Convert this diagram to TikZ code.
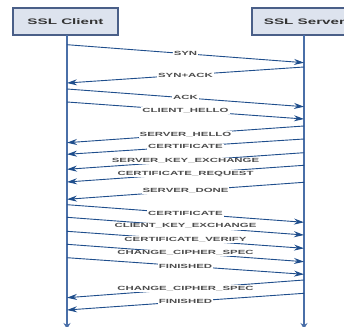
\documentclass[tikz,border=0pt]{standalone}
\usepackage{fontspec}
\setmainfont{Liberation Sans}
\usetikzlibrary{arrows.meta}
\definecolor{boxfill}{HTML}{DDE3EE}
\definecolor{boxdraw}{HTML}{4A5F88}
\definecolor{msgcol}{HTML}{1F4E8C}
\definecolor{lifecol}{HTML}{4A6FA8}
\definecolor{lblcol}{HTML}{4D4D4D}
\definecolor{titlecol}{HTML}{333333}
\newcommand{\msgtxt}[1]{\scalebox{1.9}[1]{\fontsize{6}{6}\selectfont\bfseries #1}}
\newcommand{\titletxt}[1]{\scalebox{1.9}[1]{\fontsize{8}{8}\selectfont\bfseries #1}}
\tikzset{
  actor/.style={draw=boxdraw, line width=1.8pt, fill=boxfill, minimum width=105pt,
    minimum height=27pt, inner sep=0pt, text=titlecol},
  lifeline/.style={draw=lifecol, line width=1.8pt, -{Stealth[length=6pt,width=7pt]}},
  msgline/.style={draw=msgcol, line width=0.9pt, -{Stealth[length=10pt,width=6pt]}},
  msglabel/.style={fill=white, text=lblcol, inner sep=1pt}
}
\begin{document}
\begin{tikzpicture}[x=1pt,y=-1pt]
\useasboundingbox (0,0) rectangle (344,326);
\clip (0,0) rectangle (344,326);
\fill[white] (0,0) rectangle (344,326);
\node[actor] (C) at (65.5,21.5) {\titletxt{SSL Client}};
\node[actor] (S) at (304.5,21.5) {\titletxt{SSL Server}};
\coordinate (Ctop) at (67,35);
\coordinate (Cbot) at (67,329);
\coordinate (Stop) at (304,35);
\coordinate (Sbot) at (304,329);
\draw[lifeline] (Ctop) -- (Cbot);
\draw[lifeline] (Stop) -- (Sbot);
% message end points
\coordinate (c1) at (67,44.7);   \coordinate (s1) at (304,62.7);
\coordinate (s2) at (304,67);    \coordinate (c2) at (67,83);
\coordinate (c3) at (67,89);     \coordinate (s3) at (304,106.7);
\coordinate (c4) at (67,102);    \coordinate (s4) at (304,119);
\coordinate (s5) at (304,126);   \coordinate (c5) at (67,142.7);
\coordinate (s6) at (304,139);   \coordinate (c6) at (67,154.3);
\coordinate (s7) at (304,152.7); \coordinate (c7) at (67,169.3);
\coordinate (s8) at (304,165.3); \coordinate (c8) at (67,182);
\coordinate (s9) at (304,182.3); \coordinate (c9) at (67,199.3);
\coordinate (c10) at (67,204.7); \coordinate (s10) at (304,222.3);
\coordinate (c11) at (67,217.3); \coordinate (s11) at (304,235);
\coordinate (c12) at (67,231.3); \coordinate (s12) at (304,248.3);
\coordinate (c13) at (67,244.3); \coordinate (s13) at (304,261.7);
\coordinate (c14) at (67,257.7); \coordinate (s14) at (304,274.3);
\coordinate (s15) at (304,280);  \coordinate (c15) at (67,297.7);
\coordinate (s16) at (304,293.3); \coordinate (c16) at (67,310);
\draw[msgline] (c1) -- node[msglabel] (m1) {\msgtxt{SYN}} (s1);
\draw[msgline] (s2) -- node[msglabel] (m2) {\msgtxt{SYN+ACK}} (c2);
\draw[msgline] (c3) -- node[msglabel] (m3) {\msgtxt{ACK}} (s3);
\draw[msgline] (c4) -- node[msglabel] (m4) {\msgtxt{CLIENT\_HELLO}} (s4);
\draw[msgline] (s5) -- node[msglabel] (m5) {\msgtxt{SERVER\_HELLO}} (c5);
\draw[msgline] (s6) -- node[msglabel] (m6) {\msgtxt{CERTIFICATE}} (c6);
\draw[msgline] (s7) -- node[msglabel] (m7) {\msgtxt{SERVER\_KEY\_EXCHANGE}} (c7);
\draw[msgline] (s8) -- node[msglabel] (m8) {\msgtxt{CERTIFICATE\_REQUEST}} (c8);
\draw[msgline] (s9) -- node[msglabel] (m9) {\msgtxt{SERVER\_DONE}} (c9);
\draw[msgline] (c10) -- node[msglabel] (m10) {\msgtxt{CERTIFICATE}} (s10);
\draw[msgline] (c11) -- node[msglabel] (m11) {\msgtxt{CLIENT\_KEY\_EXCHANGE}} (s11);
\draw[msgline] (c12) -- node[msglabel] (m12) {\msgtxt{CERTIFICATE\_VERIFY}} (s12);
\draw[msgline] (c13) -- node[msglabel] (m13) {\msgtxt{CHANGE\_CIPHER\_SPEC}} (s13);
\draw[msgline] (c14) -- node[msglabel] (m14) {\msgtxt{FINISHED}} (s14);
\draw[msgline] (s15) -- node[msglabel] (m15) {\msgtxt{CHANGE\_CIPHER\_SPEC}} (c15);
\draw[msgline] (s16) -- node[msglabel] (m16) {\msgtxt{FINISHED}} (c16);
\end{tikzpicture}
\end{document}
